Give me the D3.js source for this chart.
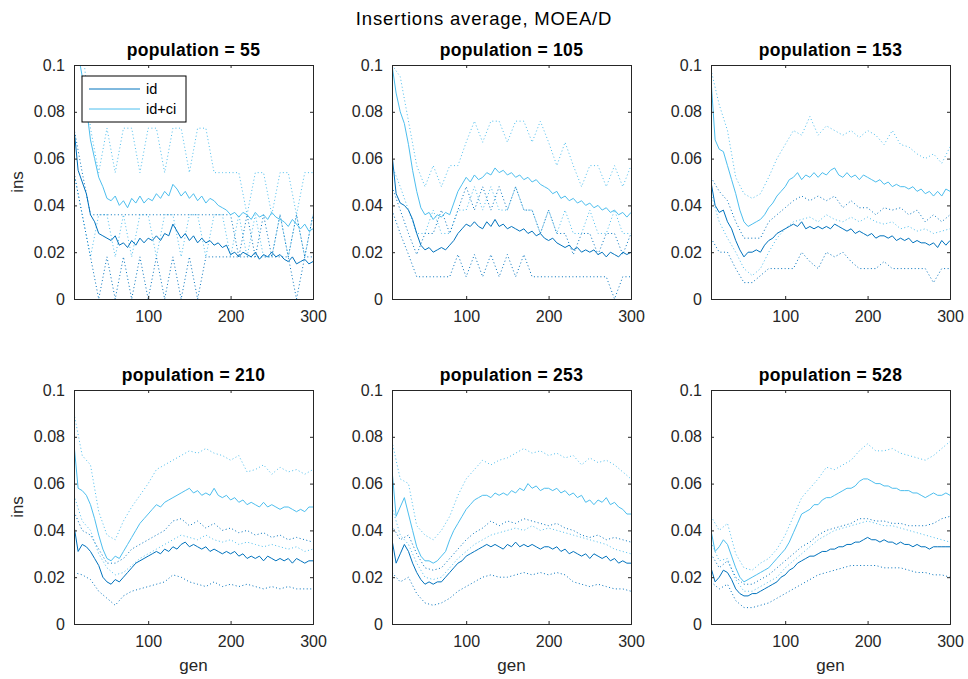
<!DOCTYPE html>
<html><head><meta charset="utf-8">
<script src="https://cdn.jsdelivr.net/npm/d3@7"></script>
<style>body{margin:0;background:#fff}svg{display:block}text{font-family:"Liberation Sans",Arial,Helvetica,sans-serif}</style>
</head><body><svg id="c" width="968" height="679"></svg>
<script>
const mainTitle = "Insertions average, MOEA/D";
const populations = [55, 105, 153, 210, 253, 528];
const gens = [10,15,20,25,30,35,40,45,50,55,60,65,70,75,80,85,90,95,100,105,110,115,120,125,130,135,140,145,150,155,160,165,170,175,180,185,190,195,200,205,210,215,220,225,230,235,240,245,250,255,260,265,270,275,280,285,290,295,300];
const gensD = [10,20,30,40,50,60,70,80,90,100,110,120,130,140,150,160,170,180,190,200,210,220,230,240,250,260,270,280,290,300];
const yTicks = [0, 0.02, 0.04, 0.06, 0.08, 0.1];
const xTicks = [100, 200, 300];
const seriesNames = ["id", "id+ci"];

// solid series (gens)
const id55 = [0.073,0.055,0.050,0.045,0.036,0.033,0.028,0.027,0.026,0.025,0.027,0.023,0.024,0.022,0.025,0.023,0.026,0.024,0.026,0.025,0.027,0.025,0.028,0.027,0.032,0.029,0.026,0.028,0.025,0.027,0.024,0.026,0.024,0.025,0.023,0.024,0.022,0.023,0.019,0.020,0.018,0.020,0.019,0.018,0.020,0.017,0.019,0.018,0.020,0.018,0.019,0.017,0.016,0.018,0.015,0.016,0.017,0.015,0.016];
const ci55 = [0.110,0.105,0.095,0.082,0.068,0.060,0.052,0.048,0.043,0.042,0.044,0.040,0.042,0.039,0.043,0.041,0.044,0.041,0.043,0.042,0.045,0.043,0.046,0.044,0.049,0.047,0.044,0.046,0.043,0.045,0.042,0.044,0.041,0.043,0.042,0.040,0.039,0.038,0.036,0.037,0.035,0.037,0.036,0.034,0.037,0.035,0.036,0.034,0.037,0.035,0.034,0.033,0.031,0.034,0.032,0.030,0.032,0.029,0.030];
const id105 = [0.062,0.045,0.041,0.040,0.038,0.034,0.028,0.023,0.021,0.022,0.020,0.021,0.022,0.021,0.023,0.025,0.028,0.030,0.032,0.031,0.033,0.031,0.030,0.033,0.031,0.034,0.031,0.032,0.030,0.031,0.030,0.029,0.030,0.028,0.029,0.027,0.028,0.026,0.025,0.026,0.024,0.023,0.022,0.023,0.021,0.022,0.020,0.021,0.020,0.021,0.019,0.020,0.018,0.020,0.019,0.018,0.020,0.019,0.020];
const ci105 = [0.100,0.088,0.080,0.075,0.066,0.055,0.046,0.039,0.036,0.037,0.034,0.036,0.035,0.037,0.036,0.041,0.046,0.049,0.052,0.050,0.053,0.051,0.052,0.054,0.053,0.056,0.054,0.055,0.053,0.054,0.052,0.053,0.051,0.052,0.050,0.051,0.049,0.048,0.047,0.045,0.046,0.043,0.044,0.042,0.043,0.041,0.042,0.040,0.041,0.039,0.040,0.038,0.039,0.037,0.038,0.036,0.037,0.035,0.037];
const id153 = [0.050,0.040,0.037,0.038,0.033,0.030,0.025,0.021,0.018,0.020,0.020,0.021,0.020,0.023,0.025,0.026,0.028,0.029,0.030,0.031,0.032,0.031,0.033,0.030,0.031,0.030,0.031,0.030,0.031,0.030,0.032,0.031,0.030,0.029,0.030,0.028,0.029,0.028,0.027,0.028,0.026,0.027,0.027,0.026,0.027,0.025,0.026,0.025,0.026,0.024,0.025,0.024,0.024,0.023,0.024,0.022,0.025,0.023,0.025];
const ci153 = [0.094,0.068,0.064,0.063,0.057,0.051,0.045,0.038,0.033,0.031,0.032,0.033,0.034,0.036,0.039,0.041,0.044,0.046,0.048,0.051,0.052,0.054,0.051,0.053,0.052,0.054,0.052,0.054,0.053,0.055,0.056,0.053,0.052,0.054,0.052,0.053,0.051,0.053,0.052,0.051,0.050,0.051,0.049,0.050,0.048,0.049,0.048,0.048,0.047,0.048,0.046,0.047,0.045,0.046,0.044,0.046,0.044,0.047,0.046];
const id210 = [0.042,0.031,0.034,0.033,0.031,0.028,0.025,0.020,0.018,0.017,0.019,0.018,0.020,0.022,0.024,0.026,0.027,0.028,0.029,0.030,0.031,0.030,0.032,0.031,0.033,0.032,0.034,0.035,0.033,0.034,0.033,0.032,0.033,0.031,0.032,0.031,0.030,0.031,0.030,0.031,0.029,0.030,0.028,0.029,0.028,0.029,0.027,0.029,0.028,0.027,0.028,0.027,0.028,0.026,0.028,0.027,0.026,0.027,0.027];
const ci210 = [0.077,0.058,0.057,0.055,0.051,0.045,0.038,0.032,0.028,0.027,0.029,0.028,0.031,0.034,0.037,0.040,0.043,0.045,0.047,0.049,0.051,0.050,0.052,0.053,0.054,0.055,0.056,0.057,0.058,0.056,0.057,0.055,0.056,0.055,0.058,0.055,0.054,0.055,0.053,0.054,0.052,0.053,0.051,0.052,0.051,0.050,0.052,0.050,0.051,0.050,0.049,0.050,0.050,0.049,0.048,0.049,0.048,0.050,0.050];
const id253 = [0.036,0.026,0.030,0.034,0.031,0.026,0.022,0.019,0.017,0.018,0.017,0.018,0.018,0.020,0.022,0.024,0.026,0.027,0.029,0.030,0.031,0.032,0.033,0.034,0.033,0.034,0.033,0.032,0.034,0.033,0.035,0.033,0.034,0.033,0.034,0.033,0.032,0.033,0.033,0.032,0.033,0.031,0.032,0.030,0.031,0.030,0.029,0.030,0.028,0.030,0.029,0.028,0.029,0.027,0.028,0.026,0.027,0.026,0.026];
const ci253 = [0.066,0.046,0.050,0.054,0.047,0.040,0.033,0.029,0.027,0.027,0.026,0.027,0.029,0.031,0.036,0.040,0.043,0.046,0.049,0.051,0.053,0.054,0.055,0.055,0.054,0.056,0.055,0.056,0.055,0.057,0.056,0.058,0.057,0.060,0.058,0.059,0.057,0.058,0.058,0.057,0.058,0.056,0.057,0.055,0.056,0.054,0.055,0.052,0.053,0.051,0.053,0.052,0.054,0.051,0.052,0.050,0.049,0.047,0.047];
const id528 = [0.024,0.018,0.020,0.023,0.022,0.019,0.015,0.013,0.012,0.012,0.013,0.013,0.014,0.015,0.016,0.017,0.018,0.020,0.021,0.023,0.024,0.026,0.027,0.028,0.029,0.029,0.030,0.031,0.031,0.032,0.032,0.033,0.033,0.034,0.034,0.035,0.035,0.036,0.037,0.036,0.036,0.035,0.036,0.035,0.035,0.034,0.035,0.034,0.034,0.033,0.034,0.033,0.033,0.032,0.033,0.033,0.033,0.033,0.033];
const ci528 = [0.040,0.031,0.033,0.036,0.034,0.029,0.024,0.020,0.018,0.019,0.020,0.021,0.022,0.023,0.024,0.026,0.028,0.030,0.032,0.035,0.039,0.043,0.047,0.048,0.049,0.051,0.051,0.053,0.054,0.054,0.055,0.056,0.057,0.058,0.058,0.059,0.061,0.062,0.062,0.061,0.060,0.060,0.059,0.059,0.058,0.058,0.057,0.057,0.057,0.056,0.056,0.055,0.054,0.055,0.056,0.055,0.055,0.056,0.055];

// dotted bounds (gensD)
const ciHi55 = [0.110,0.110,0.073,0.054,0.073,0.054,0.073,0.073,0.054,0.073,0.073,0.054,0.073,0.073,0.054,0.073,0.073,0.054,0.054,0.054,0.054,0.036,0.054,0.054,0.036,0.054,0.054,0.036,0.054,0.054];
const ciLo55 = [0.054,0.036,0.018,0.036,0.036,0.018,0.036,0.018,0.036,0.036,0.018,0.036,0.036,0.018,0.036,0.036,0.018,0.036,0.036,0.018,0.036,0.018,0.036,0.018,0.018,0.036,0.018,0.036,0.018,0.036];
const idHi55 = [0.073,0.054,0.036,0.036,0.036,0.036,0.036,0.036,0.036,0.036,0.036,0.036,0.036,0.036,0.036,0.036,0.036,0.036,0.036,0.036,0.018,0.036,0.018,0.036,0.018,0.036,0.018,0.036,0.018,0.036];
const idLo55 = [0.054,0.036,0.018,0,0.018,0,0.018,0,0.018,0,0.018,0,0.018,0,0.018,0,0.018,0.018,0.018,0.018,0.018,0.018,0.018,0.018,0.018,0.018,0.018,0,0.018,0.018];
const ciHi105 = [0.100,0.095,0.076,0.057,0.048,0.057,0.048,0.057,0.057,0.067,0.076,0.067,0.076,0.076,0.067,0.076,0.076,0.067,0.076,0.067,0.057,0.067,0.057,0.048,0.057,0.057,0.048,0.057,0.048,0.057];
const ciLo105 = [0.057,0.048,0.038,0.028,0.028,0.038,0.028,0.028,0.038,0.038,0.048,0.038,0.048,0.038,0.038,0.048,0.038,0.038,0.028,0.038,0.028,0.038,0.028,0.028,0.038,0.028,0.028,0.038,0.028,0.028];
const idHi105 = [0.048,0.038,0.028,0.019,0.028,0.028,0.038,0.028,0.038,0.048,0.038,0.048,0.038,0.048,0.038,0.048,0.038,0.038,0.028,0.038,0.028,0.028,0.019,0.028,0.028,0.019,0.028,0.028,0.019,0.028];
const idLo105 = [0.038,0.028,0.019,0.0095,0.0095,0.0095,0.0095,0.0095,0.019,0.0095,0.019,0.0095,0.019,0.0095,0.019,0.0095,0.019,0.0095,0.0095,0.0095,0.0095,0.0095,0.0095,0.0095,0.0095,0.0095,0.0095,0,0.0095,0.0095];
const ciHi153 = [0.098,0.083,0.072,0.052,0.045,0.043,0.045,0.052,0.060,0.066,0.072,0.070,0.078,0.070,0.074,0.072,0.070,0.072,0.069,0.072,0.070,0.066,0.072,0.066,0.065,0.062,0.060,0.062,0.058,0.065];
const ciLo153 = [0.045,0.033,0.026,0.020,0.013,0.010,0.013,0.020,0.026,0.030,0.033,0.034,0.035,0.033,0.036,0.034,0.033,0.035,0.033,0.035,0.033,0.032,0.033,0.030,0.031,0.029,0.030,0.028,0.029,0.030];
const idHi153 = [0.052,0.046,0.042,0.033,0.026,0.026,0.026,0.033,0.036,0.039,0.042,0.044,0.042,0.044,0.042,0.044,0.039,0.042,0.039,0.039,0.036,0.039,0.038,0.039,0.036,0.038,0.033,0.036,0.033,0.036];
const idLo153 = [0.026,0.020,0.020,0.013,0.007,0.007,0.010,0.013,0.013,0.013,0.013,0.020,0.016,0.013,0.020,0.018,0.020,0.016,0.013,0.013,0.013,0.016,0.013,0.013,0.013,0.013,0.013,0.007,0.013,0.013];
const ciHi210 = [0.090,0.072,0.068,0.048,0.038,0.036,0.044,0.050,0.055,0.060,0.066,0.068,0.070,0.072,0.074,0.073,0.075,0.073,0.072,0.070,0.072,0.065,0.066,0.068,0.064,0.067,0.065,0.066,0.064,0.066];
const ciLo210 = [0.055,0.044,0.040,0.030,0.024,0.021,0.022,0.025,0.028,0.030,0.032,0.034,0.036,0.038,0.037,0.036,0.038,0.036,0.035,0.036,0.034,0.035,0.034,0.033,0.034,0.033,0.032,0.033,0.031,0.032];
const idHi210 = [0.048,0.040,0.038,0.032,0.026,0.026,0.028,0.032,0.034,0.036,0.038,0.040,0.044,0.045,0.042,0.044,0.041,0.043,0.040,0.041,0.039,0.040,0.038,0.039,0.037,0.038,0.036,0.037,0.036,0.035];
const idLo210 = [0.022,0.021,0.019,0.014,0.011,0.008,0.012,0.014,0.015,0.016,0.017,0.018,0.021,0.020,0.018,0.017,0.016,0.018,0.016,0.017,0.016,0.017,0.016,0.015,0.016,0.015,0.016,0.015,0.015,0.015];
const ciHi253 = [0.078,0.062,0.060,0.042,0.038,0.036,0.040,0.046,0.055,0.062,0.066,0.070,0.068,0.070,0.071,0.073,0.075,0.073,0.074,0.072,0.073,0.071,0.072,0.068,0.071,0.069,0.070,0.068,0.065,0.062];
const ciLo253 = [0.050,0.038,0.034,0.026,0.020,0.019,0.020,0.024,0.028,0.031,0.034,0.036,0.038,0.039,0.040,0.041,0.040,0.042,0.040,0.041,0.040,0.039,0.038,0.037,0.036,0.035,0.034,0.032,0.031,0.030];
const idHi253 = [0.042,0.036,0.038,0.030,0.024,0.023,0.024,0.028,0.032,0.036,0.039,0.041,0.044,0.042,0.044,0.043,0.045,0.044,0.043,0.042,0.043,0.041,0.040,0.038,0.037,0.038,0.036,0.037,0.036,0.035];
const idLo253 = [0.022,0.018,0.020,0.013,0.009,0.008,0.009,0.011,0.014,0.016,0.018,0.020,0.021,0.020,0.020,0.021,0.022,0.021,0.022,0.021,0.022,0.021,0.018,0.017,0.016,0.017,0.016,0.015,0.015,0.014];
const ciHi528 = [0.046,0.040,0.043,0.030,0.024,0.023,0.026,0.028,0.032,0.038,0.046,0.054,0.058,0.062,0.067,0.066,0.068,0.070,0.074,0.077,0.074,0.074,0.075,0.073,0.072,0.071,0.070,0.072,0.075,0.078];
const ciLo528 = [0.035,0.027,0.028,0.019,0.014,0.014,0.016,0.018,0.020,0.024,0.027,0.030,0.033,0.036,0.038,0.040,0.041,0.042,0.043,0.044,0.043,0.042,0.042,0.041,0.040,0.039,0.038,0.037,0.036,0.035];
const idHi528 = [0.030,0.024,0.027,0.020,0.017,0.017,0.019,0.021,0.024,0.027,0.030,0.033,0.035,0.038,0.040,0.041,0.042,0.043,0.045,0.045,0.044,0.044,0.043,0.043,0.042,0.042,0.042,0.043,0.045,0.046];
const idLo528 = [0.018,0.015,0.017,0.010,0.007,0.007,0.008,0.009,0.011,0.013,0.015,0.017,0.019,0.021,0.022,0.023,0.024,0.025,0.025,0.025,0.025,0.024,0.024,0.024,0.023,0.022,0.022,0.021,0.021,0.020];

const panels = [
  {pop:55,  id:id55,  ci:ci55,  ciHi:ciHi55,  ciLo:ciLo55,  idHi:idHi55,  idLo:idLo55},
  {pop:105, id:id105, ci:ci105, ciHi:ciHi105, ciLo:ciLo105, idHi:idHi105, idLo:idLo105},
  {pop:153, id:id153, ci:ci153, ciHi:ciHi153, ciLo:ciLo153, idHi:idHi153, idLo:idLo153},
  {pop:210, id:id210, ci:ci210, ciHi:ciHi210, ciLo:ciLo210, idHi:idHi210, idLo:idLo210},
  {pop:253, id:id253, ci:ci253, ciHi:ciHi253, ciLo:ciLo253, idHi:idHi253, idLo:idLo253},
  {pop:528, id:id528, ci:ci528, ciHi:ciHi528, ciLo:ciLo528, idHi:idHi528, idLo:idLo528}
];

const dark = "#0072BD", light = "#4DBEEE", axisCol = "#262626";
const colX = [74, 392, 711], rowY = [65, 390], W = 239, H = 234;
const svg = d3.select("#c");

svg.append("text").attr("x", 484).attr("y", 25).attr("text-anchor", "middle")
  .attr("font-size", 18.5).attr("letter-spacing", 0.8).attr("fill", "#000").text(mainTitle);

panels.forEach((p, i) => {
  const c = i % 3, r = Math.floor(i / 3);
  const g = svg.append("g").attr("transform", `translate(${colX[c]},${rowY[r]})`);
  const x = d3.scaleLinear().domain([10, 300]).range([0, W]);
  const y = d3.scaleLinear().domain([0, 0.1]).range([H, 0]);
  const clipId = "clip" + i;
  g.append("clipPath").attr("id", clipId).append("rect").attr("width", W).attr("height", H);
  const plot = g.append("g").attr("clip-path", `url(#${clipId})`);
  const lineS = d3.line().x((d, k) => x(gens[k])).y(d => y(d));
  const lineD = d3.line().x((d, k) => x(gensD[k])).y(d => y(d));
  const dotted = [[p.ciHi, light], [p.ciLo, light], [p.idHi, dark], [p.idLo, dark]];
  dotted.forEach(([arr, col]) => {
    plot.append("path").attr("d", lineD(arr)).attr("fill", "none").attr("stroke", col)
      .attr("stroke-width", 1).attr("stroke-dasharray", "1,2.5");
  });
  plot.append("path").attr("d", lineS(p.ci)).attr("fill", "none").attr("stroke", light).attr("stroke-width", 1);
  plot.append("path").attr("d", lineS(p.id)).attr("fill", "none").attr("stroke", dark).attr("stroke-width", 1);

  // axes
  const ax = g.append("g").attr("transform", `translate(0,${H})`)
    .call(d3.axisBottom(x).tickValues(xTicks).tickSize(-3).tickPadding(12).tickFormat(d3.format("d")));
  const ay = g.append("g").call(d3.axisLeft(y).tickValues(yTicks).tickSize(-3).tickPadding(9).tickFormat(d => d === 0 ? "0" : d3.format("")(+d.toFixed(2))));
  const axT = g.append("g").call(d3.axisTop(x).tickValues(xTicks).tickSize(-3).tickFormat(""));
  const ayR = g.append("g").attr("transform", `translate(${W},0)`).call(d3.axisRight(y).tickValues(yTicks).tickSize(-3).tickFormat(""));
  [ax, ay, axT, ayR].forEach(a => {
    a.selectAll("path").attr("stroke", axisCol).attr("stroke-width", 1);
    a.selectAll("line").attr("stroke", axisCol);
    a.selectAll("text").attr("font-size", 16).attr("fill", axisCol).attr("font-family", '"Liberation Sans", Arial, sans-serif');
  });

  g.append("text").attr("x", W / 2).attr("y", -9).attr("text-anchor", "middle")
    .attr("font-size", 17.5).attr("letter-spacing", 0.3).attr("font-weight", "bold").attr("fill", "#000").text("population = " + p.pop);
  if (c === 0) {
    g.append("text").attr("transform", `translate(${-51},${H / 2}) rotate(-90)`).attr("text-anchor", "middle")
      .attr("font-size", 17).attr("fill", axisCol).text("ins");
  }
  if (r === 1) {
    g.append("text").attr("x", W / 2).attr("y", H + 47).attr("text-anchor", "middle")
      .attr("font-size", 17).attr("fill", axisCol).text("gen");
  }
  if (i === 0) {
    const lg = g.append("g").attr("transform", "translate(8,11)");
    lg.append("rect").attr("width", 104).attr("height", 46).attr("fill", "#fff").attr("stroke", "#000").attr("stroke-width", 1);
    [[dark, 13], [light, 33]].forEach(([col, yy], k) => {
      lg.append("line").attr("x1", 7).attr("x2", 58).attr("y1", yy).attr("y2", yy).attr("stroke", col).attr("stroke-width", 1);
      lg.append("text").attr("x", 64).attr("y", yy + 5).attr("font-size", 14.5).attr("fill", "#000").text(seriesNames[k]);
    });
  }
});
</script></body></html>
